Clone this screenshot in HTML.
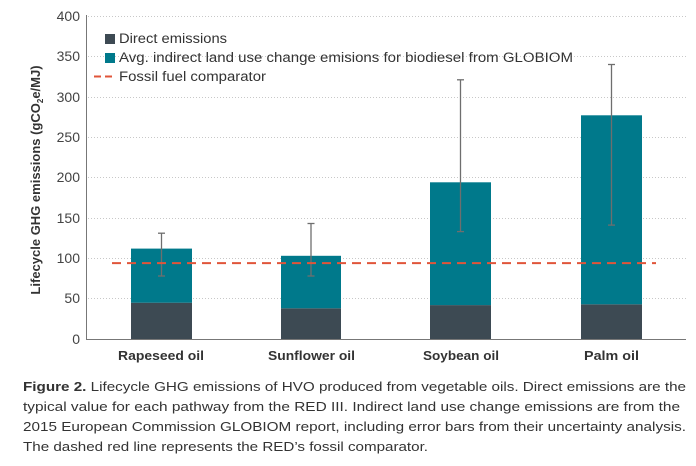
<!DOCTYPE html>
<html><head><meta charset="utf-8"><style>
body{margin:0;background:#fff;width:696px;height:461px;overflow:hidden;font-family:"Liberation Sans",sans-serif}
</style></head><body>
<svg width="696" height="461" xmlns="http://www.w3.org/2000/svg" font-family="Liberation Sans, sans-serif">
<g stroke="#c8c8c8" stroke-dasharray="1,2" stroke-width="1">
<line x1="88" x2="686" y1="16.5" y2="16.5"/><line x1="88" x2="686" y1="56.5" y2="56.5"/>
<line x1="88" x2="686" y1="97.5" y2="97.5"/><line x1="88" x2="686" y1="137.5" y2="137.5"/>
<line x1="88" x2="686" y1="177.5" y2="177.5"/><line x1="88" x2="686" y1="218.5" y2="218.5"/>
<line x1="88" x2="686" y1="258.5" y2="258.5"/><line x1="88" x2="686" y1="298.5" y2="298.5"/>
</g>
<g fill="#3d4a53">
<rect x="131" y="302.7" width="61" height="36.3"/><rect x="281" y="308.3" width="60" height="30.7"/>
<rect x="430" y="305.1" width="61" height="33.9"/><rect x="581" y="304.3" width="61" height="34.7"/>
</g>
<g fill="#00798b">
<rect x="131" y="248.6" width="61" height="54.1"/><rect x="281" y="255.8" width="60" height="52.5"/>
<rect x="430" y="182.3" width="61" height="122.8"/><rect x="581" y="115.3" width="61" height="189"/>
</g>
<g stroke="#6e6e6e" stroke-width="1.3">
<line x1="161.5" x2="161.5" y1="233.2" y2="276"/><line x1="158" x2="165" y1="233.2" y2="233.2"/><line x1="158" x2="165" y1="276" y2="276"/>
<line x1="311" x2="311" y1="223.5" y2="276"/><line x1="307.5" x2="314.5" y1="223.5" y2="223.5"/><line x1="307.5" x2="314.5" y1="276" y2="276"/>
<line x1="460.5" x2="460.5" y1="79.8" y2="231.6"/><line x1="457" x2="464" y1="79.8" y2="79.8"/><line x1="457" x2="464" y1="231.6" y2="231.6"/>
<line x1="611.5" x2="611.5" y1="64.5" y2="225.1"/><line x1="608" x2="615" y1="64.5" y2="64.5"/><line x1="608" x2="615" y1="225.1" y2="225.1"/>
</g>
<line x1="112" x2="656" y1="263.1" y2="263.1" stroke="#e0553a" stroke-width="2" stroke-dasharray="9,6"/>
<g stroke="#777" stroke-width="1"><line x1="86.5" x2="86.5" y1="15" y2="339"/><line x1="86" x2="686" y1="339.5" y2="339.5"/></g>
<g font-size="14" fill="#444" text-anchor="end">
<text x="80" y="21">400</text><text x="80" y="61">350</text><text x="80" y="102">300</text><text x="80" y="142">250</text>
<text x="80" y="182">200</text><text x="80" y="223">150</text><text x="80" y="263">100</text><text x="80" y="303">50</text><text x="80" y="344">0</text>
</g>
<text transform="translate(40,180) rotate(-90)" font-size="13" font-weight="bold" fill="#333" text-anchor="middle">Lifecycle GHG emissions (gCO<tspan font-size="8" dy="3">2</tspan><tspan dy="-3">e/MJ)</tspan></text>
<g font-size="13" font-weight="bold" fill="#333">
<text x="118" y="360" textLength="86" lengthAdjust="spacingAndGlyphs">Rapeseed oil</text>
<text x="268" y="360" textLength="87" lengthAdjust="spacingAndGlyphs">Sunflower oil</text>
<text x="423" y="360" textLength="76" lengthAdjust="spacingAndGlyphs">Soybean oil</text>
<text x="584" y="360" textLength="55" lengthAdjust="spacingAndGlyphs">Palm oil</text>
</g>
<rect x="105" y="34" width="10" height="10" fill="#3d4a53"/>
<rect x="105" y="53" width="10" height="10" fill="#00798b"/>
<line x1="94" x2="116" y1="76.5" y2="76.5" stroke="#e0553a" stroke-width="2" stroke-dasharray="7,4"/>
<g font-size="13.5" fill="#333">
<text x="119" y="43" textLength="108" lengthAdjust="spacingAndGlyphs">Direct emissions</text>
<text x="119" y="62" textLength="454" lengthAdjust="spacingAndGlyphs">Avg. indirect land use change emisions for biodiesel from GLOBIOM</text>
<text x="119" y="81" textLength="147" lengthAdjust="spacingAndGlyphs">Fossil fuel comparator</text>
</g>
<g font-size="13" fill="#333">
<text x="23" y="391" textLength="663" lengthAdjust="spacingAndGlyphs"><tspan font-weight="bold">Figure 2.</tspan> Lifecycle GHG emissions of HVO produced from vegetable oils. Direct emissions are the</text>
<text x="23" y="411" textLength="657" lengthAdjust="spacingAndGlyphs">typical value for each pathway from the RED III. Indirect land use change emissions are from the</text>
<text x="23" y="431" textLength="663" lengthAdjust="spacingAndGlyphs">2015 European Commission GLOBIOM report, including error bars from their uncertainty analysis.</text>
<text x="23" y="451" textLength="405" lengthAdjust="spacingAndGlyphs">The dashed red line represents the RED’s fossil comparator.</text>
</g>
</svg>
</body></html>
